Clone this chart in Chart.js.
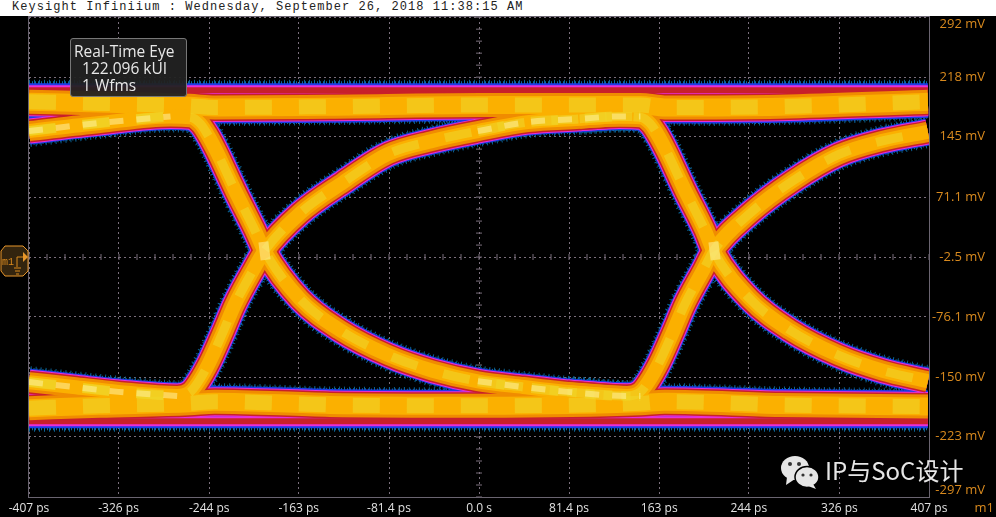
<!DOCTYPE html>
<html>
<head>
<meta charset="utf-8">
<title>Real-Time Eye</title>
<script src="https://cdn.jsdelivr.net/npm/chart.js@4"></script>
<style>
  html, body { margin: 0; padding: 0; background: #000; overflow: hidden; }
  #wrap { position: relative; width: 996px; height: 517px; }
  #eye { position: absolute; left: 0; top: 0; }
  #header {
    position: absolute; left: 0; top: 0; width: 996px; height: 16px; background: #fff; color: #222;
    font: 12px/15px "Liberation Mono", monospace; letter-spacing: 1.05px; padding-left: 12px; box-sizing: border-box; white-space: pre;
  }
  #info {
    position: absolute; left: 70px; top: 38px; width: 117px; height: 59px; box-sizing: border-box;
    background: rgba(34,34,34,.95); border: 1px solid #777; border-radius: 3px;
    color: #e8e8e8; font: 15.5px/17px "Open Sans", sans-serif; padding: 4px 0 0 3px; white-space: pre;
  }
  #m1-tag { position: absolute; left: 0; top: 245px; }
  #m1-side { position: absolute; right: 2px; top: 499px; color: #d98a1e; font: 13px/16px "Open Sans", sans-serif; }
  #mark { position: absolute; left: 778px; top: 452px; }
</style>
</head>
<body>
<div id="wrap">
  <canvas id="eye" width="996" height="517"></canvas>
  <div id="header">Keysight Infiniium : Wednesday, September 26, 2018 11:38:15 AM</div>
  <div id="info">Real-Time Eye
  122.096 kUI
  1 Wfms</div>
  <svg id="m1-tag" width="29" height="32">
    <path d="M5 1H23L28 6V26L23 31H5L1 26V6Z" fill="#33240e" stroke="#e8962a" stroke-width="1"/>
    <text x="2" y="20" fill="#d98a1e" font-family="Liberation Mono" font-size="10">m1</text>
    <path d="M17 22V12H23" fill="none" stroke="#d98a1e"/>
    <path d="M23 7L28 12L23 17Z" fill="#e8962a"/>
    <path d="M14 23H21M15 26H20M16 29H19" stroke="#d98a1e"/>
  </svg>
  <div id="m1-side">m1</div>
  <svg id="mark" width="200" height="40">
    <ellipse cx="17" cy="16" rx="14" ry="12" fill="#e6e6e6"/>
    <path d="M9 25L8 33L17 27Z" fill="#e6e6e6"/>
    <ellipse cx="29" cy="25" rx="12" ry="10.5" fill="#e6e6e6" stroke="#000" stroke-width="1.5"/>
    <path d="M35 32L38 37L30 34Z" fill="#e6e6e6"/>
    <circle cx="12" cy="12" r="2" fill="#333"/><circle cx="21" cy="12" r="2" fill="#333"/>
    <circle cx="25" cy="23" r="1.6" fill="#333"/><circle cx="33" cy="23" r="1.6" fill="#333"/>
    <text x="47" y="28" fill="#e6e6e6" font-family="'Noto Sans CJK SC'" font-size="24">IP与SoC设计</text>
  </svg>
</div>
<script>
// axis labels as printed by the scope
const xTickValues = [-407, -326, -244, -163, -81.4, 0, 81.4, 163, 244, 326, 407];
const xTickLabels = ['-407 ps', '-326 ps', '-244 ps', '-163 ps', '-81.4 ps', '0.0 s', '81.4 ps', '163 ps', '244 ps', '326 ps', '407 ps'];
const yTickValues = [292, 218, 145, 71.1, -2.5, -76.1, -150, -223, -297];
const yTickLabels = ['292 mV', '218 mV', '145 mV', '71.1 mV', '-2.5 mV', '-76.1 mV', '-150 mV', '-223 mV', '-297 mV'];

// upper and lower rails (ps, mV)
const railX = [-407, -343, -262, -239, -135, 1, 146, 168, 272, 406];
const railTopMain = [188, 186, 183, 181, 182, 184, 184, 181, 182, 188];
const railLowMain = [-188, -185, -182, -180, -184, -185, -182, -180, -184, -186];
const railTopFringe = [202, 202, 202, 202, 202, 202, 202, 202, 202, 202];
const railLowFringe = [-204, -204, -204, -204, -204, -204, -204, -204, -204, -204];

// falling and rising edges of the two crossings (ps, mV)
const riseAX = [-407, -367, -326, -273, -261, -254, -244, -232, -221, -204, -194, -162, -123, -82, -42, -1, 44, 91, 127, 146];
const riseAY = [-156, -162, -168, -173, -168, -156, -132, -96, -61, -18, 5, 51, 89, 124, 140, 152, 163, 167, 170, 170];
const fallAX = [-407, -343, -279, -261, -252, -246, -238, -221, -203, -194, -162, -126, -82, -42, -1, 40, 80, 134, 146];
const fallAY = [152, 162, 170, 169, 161, 149, 129, 80, 31, 5, -54, -92, -123, -142, -155, -162, -168, -173, -173];
const riseBX = [80, 134, 146, 153, 163, 175, 186, 203, 212, 245, 284, 325, 365, 406];
const riseBY = [-168, -173, -168, -156, -132, -96, -61, -18, 5, 51, 91, 123, 140, 151];
const fallBX = [91, 127, 146, 155, 161, 169, 186, 204, 212, 245, 281, 325, 365, 406];
const fallBY = [167, 170, 169, 161, 149, 129, 80, 31, 5, -54, -92, -123, -142, -155];

// bright spots where the traces pile up
const crossAX = [-195, -193];
const crossBX = [212, 214];
const crossY = [16, -6];

// heat layers, cold to hot
const layerColors = ['#0a5f90', '#0a6ea0', '#1c3ce6', '#e82ed8', '#c8202a', '#f08c00', '#fbb000', 'rgba(240,214,40,.6)', 'rgba(255,243,160,.55)'];
const layerDash = [[1, 4], [1, 2], [], [], [], [], [], [27, 27], [14, 13]];
const edgeWidths = [32, 29, 27, 25, 23, 20, 14, 9, 0];
const railWidths = [37, 34, 32, 29, 27, 24, 18, 15, 0];
const fringeWidths = [21, 18, 14, 10, 6, 0, 0, 0, 0];
const hotWidths = [0, 0, 0, 0, 0, 0, 0, 10, 6];
const spotWidths = [0, 0, 0, 0, 0, 0, 0, 0, 10];

const zip = (xs, ys) => xs.map((x, i) => ({ x, y: ys[i] }));
const traces = [
  { data: zip(railX, railTopFringe), widths: fringeWidths },
  { data: zip(railX, railLowFringe), widths: fringeWidths },
  { data: zip(railX, railTopMain), widths: railWidths },
  { data: zip(railX, railLowMain), widths: railWidths },
  { data: zip(fallAX, fallAY), widths: edgeWidths },
  { data: zip(riseAX, riseAY), widths: edgeWidths },
  { data: zip(fallBX, fallBY), widths: edgeWidths },
  { data: zip(riseBX, riseBY), widths: edgeWidths },
  { data: zip(riseAX.slice(15), riseAY.slice(15)), widths: hotWidths },
  { data: zip(riseAX.slice(0, 4), riseAY.slice(0, 4)), widths: hotWidths },
  { data: zip(fallAX.slice(0, 3), fallAY.slice(0, 3)), widths: hotWidths },
  { data: zip(fallAX.slice(14), fallAY.slice(14)), widths: hotWidths },
  { data: zip(crossAX, crossY), widths: spotWidths },
  { data: zip(crossBX, crossY), widths: spotWidths }
];

// all traces of a layer go down before the next hotter layer, so overlaps blend like a density map
// (chart.js paints the first dataset last)
const datasets = [];
layerColors.forEach((color, layer) => {
  traces.forEach(t => {
    if (!t.widths[layer]) return;
    datasets.unshift({
      data: t.data,
      borderColor: color,
      borderWidth: t.widths[layer],
      borderDash: t.widths === spotWidths ? [] : layerDash[layer],
      borderCapStyle: 'butt',
      borderJoinStyle: 'round',
      pointRadius: 0,
      cubicInterpolationMode: 'monotone',
      clip: 0
    });
  });
});

const gridColor = '#7a6f7c';

// frame and the small ticks on the centre axes
const scopeFrame = {
  id: 'scopeFrame',
  beforeDatasetsDraw(chart) {
    const { ctx, scales: { x, y } } = chart;
    ctx.save();
    ctx.strokeStyle = gridColor;
    for (let v = -407; v <= 407; v += 16.28) {
      const px = x.getPixelForValue(v), py = y.getPixelForValue(-2.5);
      ctx.beginPath(); ctx.moveTo(px, py - 3); ctx.lineTo(px, py + 3); ctx.stroke();
    }
    for (let v = -297; v <= 292; v += 14.72) {
      const px = x.getPixelForValue(0), py = y.getPixelForValue(v);
      ctx.beginPath(); ctx.moveTo(px - 3, py); ctx.lineTo(px + 3, py); ctx.stroke();
    }
    ctx.restore();
  },
  afterDatasetsDraw(chart) {
    const { ctx, chartArea: a } = chart;
    ctx.save();
    ctx.strokeStyle = '#6a6470';
    ctx.lineWidth = 1;
    ctx.strokeRect(a.left - 0.5, a.top - 0.5, a.right - a.left + 1, a.bottom - a.top + 1);
    ctx.restore();
  }
};

new Chart(document.getElementById('eye'), {
  type: 'line',
  data: { datasets },
  plugins: [scopeFrame],
  options: {
    responsive: false,
    animation: false,
    events: [],
    parsing: false,
    normalized: true,
    layout: { padding: { left: 29, top: 17, right: 11, bottom: 0 } },
    plugins: { legend: { display: false }, tooltip: { enabled: false }, title: { display: false } },
    scales: {
      x: {
        type: 'linear',
        min: -407,
        max: 407,
        afterBuildTicks: s => { s.ticks = xTickValues.map(value => ({ value })); },
        afterFit: s => { s.height = 20; },
        grid: { color: gridColor, lineWidth: 1, drawTicks: false },
        border: { dash: [2, 3], display: false },
        ticks: {
          color: '#e2e2e2',
          font: { family: 'Open Sans', size: 12 },
          padding: 4,
          maxRotation: 0,
          autoSkip: false,
          callback: (v, i) => xTickLabels[i]
        }
      },
      y: {
        type: 'linear',
        position: 'right',
        min: -297,
        max: 292,
        afterBuildTicks: s => { s.ticks = yTickValues.map(value => ({ value })); },
        afterFit: s => { s.width = 56; },
        grid: { color: gridColor, lineWidth: 1, drawTicks: false },
        border: { dash: [2, 3], display: false },
        ticks: {
          color: '#d98a1e',
          font: { family: 'Open Sans', size: 13, lineHeight: 1.05 },
          padding: 0,
          crossAlign: 'far',
          autoSkip: false,
          // blank line keeps the end labels inside the frame
          callback: (v, i) => {
            if (i === 0) return ['', yTickLabels[0]];
            if (i === yTickLabels.length - 1) return [yTickLabels[i], ''];
            return yTickLabels[i];
          }
        }
      }
    }
  }
});
</script>
</body>
</html>
